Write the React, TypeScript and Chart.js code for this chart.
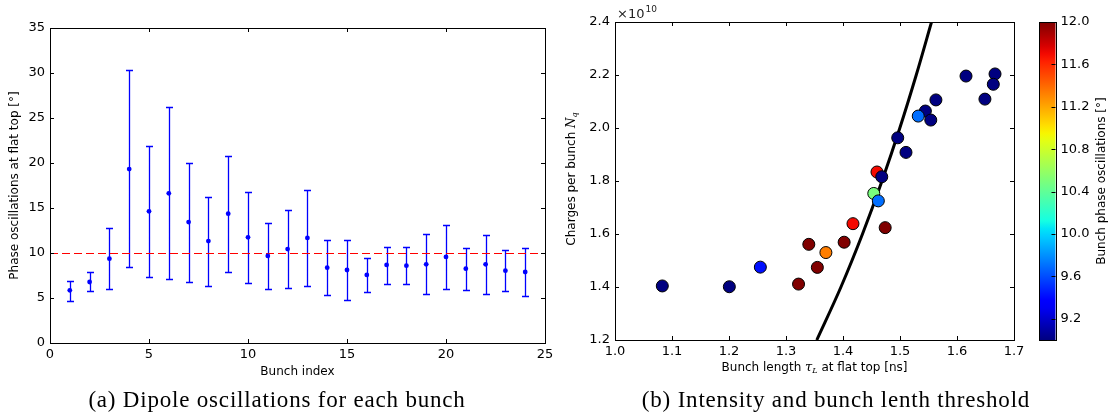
import React, { useEffect, useRef } from "react";
import { Chart, registerables } from "chart.js";
Chart.register(...registerables);

const SANS = "'DejaVu Sans', 'Noto Sans', sans-serif";
const SERIF_CAPTION = "'Liberation Serif', 'DejaVu Serif', serif";

// ---------- (a) Dipole oscillations for each bunch ----------
const bunchIndex = [1, 2, 3, 4, 5, 6, 7, 8, 9, 10, 11, 12, 13, 14, 15, 16, 17, 18, 19, 20, 21, 22, 23, 24];
const phaseOsc = [5.85, 6.78, 9.37, 19.33, 14.63, 16.63, 13.44, 11.33, 14.37, 11.74, 9.67, 10.44, 11.67, 8.37, 8.11, 7.56, 8.67, 8.59, 8.74, 9.56, 8.26, 8.74, 8.04, 7.89];
const phaseOscHigh = [6.93, 7.85, 12.74, 30.3, 21.9, 26.2, 20.04, 16.2, 20.8, 16.8, 13.33, 14.78, 16.96, 11.4, 11.4, 9.41, 10.7, 10.7, 12.07, 13.07, 10.59, 12.0, 10.33, 10.52];
const phaseOscLow = [4.7, 5.74, 5.96, 8.41, 7.33, 7.07, 6.82, 6.37, 7.93, 6.63, 6.0, 6.07, 6.37, 5.3, 4.81, 5.67, 6.59, 6.52, 5.41, 5.96, 5.89, 5.41, 5.74, 5.22];
const thresholdLevel = 10;
const leftXRange = [0, 25];
const leftYRange = [0, 35];
const leftXTicks = [0, 5, 10, 15, 20, 25];
const leftYTicks = [0, 5, 10, 15, 20, 25, 30, 35];

// ---------- (b) Intensity and bunch length threshold ----------
const bunchLength = [1.083, 1.2006, 1.255, 1.322, 1.34, 1.355, 1.37, 1.402, 1.4175, 1.4596, 1.468, 1.454, 1.462, 1.474, 1.496, 1.5105, 1.5445, 1.554, 1.532, 1.563, 1.6158, 1.6667, 1.6637, 1.649];
const bunchCharges = [1.404, 1.401, 1.475, 1.411, 1.561, 1.474, 1.53, 1.569, 1.639, 1.834, 1.816, 1.753, 1.725, 1.624, 1.963, 1.908, 2.064, 2.03, 2.045, 2.106, 2.196, 2.204, 2.165, 2.109];
const bunchPhaseOsc = [8.9, 8.9, 9.42, 12.3, 12.3, 12.3, 11.33, 12.3, 11.7, 11.7, 8.9, 10.49, 9.7, 12.3, 8.9, 8.9, 8.9, 8.9, 9.7, 8.9, 8.9, 8.9, 8.9, 8.9];
const thresholdTau = [1.354, 1.3964, 1.4342, 1.4684, 1.4997, 1.5285, 1.5553];
const thresholdCharges = [1.2, 1.4, 1.6, 1.8, 2.0, 2.2, 2.4];
const rightXRange = [1.0, 1.7];
const rightYRange = [1.2, 2.4];
const rightXTicks = [1.0, 1.1, 1.2, 1.3, 1.4, 1.5, 1.6, 1.7];
const rightYTicks = [1.2, 1.4, 1.6, 1.8, 2.0, 2.2, 2.4];
const colorRange = [9.0, 12.0];
const colorbarTicks = [9.2, 9.6, 10.0, 10.4, 10.8, 11.2, 11.6, 12.0];

function jet(t: number): string {
  t = Math.max(0, Math.min(1, t));
  const interp = (pts: number[][]) => {
    for (let i = 0; i < pts.length - 1; i++) {
      const [x0, y0] = pts[i];
      const [x1, y1] = pts[i + 1];
      if (t <= x1) return y0 + ((y1 - y0) * (t - x0)) / (x1 - x0);
    }
    return pts[pts.length - 1][1];
  };
  const r = interp([[0, 0], [0.35, 0], [0.66, 1], [0.89, 1], [1, 0.5]]);
  const g = interp([[0, 0], [0.125, 0], [0.375, 1], [0.64, 1], [0.91, 0], [1, 0]]);
  const b = interp([[0, 0.5], [0.11, 1], [0.34, 1], [0.65, 0], [1, 0]]);
  return `rgb(${Math.round(r * 255)},${Math.round(g * 255)},${Math.round(b * 255)})`;
}
const colorFor = (v: number) => jet((v - colorRange[0]) / (colorRange[1] - colorRange[0]));

const setTicks = (vals: number[]) => (scale: any) => {
  scale.ticks = vals.map((v) => ({ value: v }));
};

type Seg = { t: string; font: string; dy?: number };
function drawRich(ctx: CanvasRenderingContext2D, segs: Seg[], cx: number, cy: number, rot: number) {
  ctx.save();
  ctx.translate(cx, cy);
  ctx.rotate(rot);
  let total = 0;
  const widths = segs.map((s) => {
    ctx.font = s.font;
    const w = ctx.measureText(s.t).width;
    total += w;
    return w;
  });
  let x = -total / 2;
  ctx.textBaseline = "middle";
  ctx.textAlign = "left";
  ctx.fillStyle = "#000";
  segs.forEach((s, i) => {
    ctx.font = s.font;
    ctx.fillText(s.t, x, s.dy || 0);
    x += widths[i];
  });
  ctx.restore();
}

const frameTicks = {
  id: "frameTicks",
  afterDatasetsDraw(chart: any) {
    const { ctx, chartArea: a } = chart;
    const xs = chart.scales.x;
    const ys = chart.scales.y;
    const L = 4;
    ctx.save();
    ctx.strokeStyle = "#000";
    ctx.lineWidth = 1;
    ctx.beginPath();
    for (const t of xs.ticks) {
      const p = Math.round(xs.getPixelForValue(t.value)) + 0.5;
      ctx.moveTo(p, a.bottom);
      ctx.lineTo(p, a.bottom - L);
      ctx.moveTo(p, a.top);
      ctx.lineTo(p, a.top + L);
    }
    for (const t of ys.ticks) {
      const p = Math.round(ys.getPixelForValue(t.value)) + 0.5;
      ctx.moveTo(a.left, p);
      ctx.lineTo(a.left + L, p);
      ctx.moveTo(a.right, p);
      ctx.lineTo(a.right - L, p);
    }
    ctx.stroke();
    ctx.strokeRect(Math.round(a.left) + 0.5, Math.round(a.top) + 0.5, Math.round(a.right - a.left), Math.round(a.bottom - a.top));
    ctx.restore();
  },
};

const errorBars = {
  id: "errorBars",
  beforeDatasetsDraw(chart: any) {
    const { ctx, chartArea: a } = chart;
    const xs = chart.scales.x;
    const ys = chart.scales.y;
    ctx.save();
    ctx.strokeStyle = "#0000ff";
    ctx.lineWidth = 1.3;
    ctx.beginPath();
    bunchIndex.forEach((b, i) => {
      const px = Math.round(xs.getPixelForValue(b)) + 0.5;
      const hi = Math.round(ys.getPixelForValue(phaseOscHigh[i])) + 0.5;
      const lo = Math.round(ys.getPixelForValue(phaseOscLow[i])) + 0.5;
      ctx.moveTo(px, hi);
      ctx.lineTo(px, lo);
      ctx.moveTo(px - 3.5, hi);
      ctx.lineTo(px + 3.5, hi);
      ctx.moveTo(px - 3.5, lo);
      ctx.lineTo(px + 3.5, lo);
    });
    ctx.stroke();
    // threshold dashed line
    const ty = Math.round(ys.getPixelForValue(thresholdLevel)) + 0.5;
    ctx.strokeStyle = "#ff0000";
    ctx.lineWidth = 1;
    ctx.setLineDash([8, 4]);
    ctx.beginPath();
    ctx.moveTo(xs.getPixelForValue(leftXRange[0]), ty);
    ctx.lineTo(Math.min(a.right, xs.getPixelForValue(leftXRange[1])), ty);
    ctx.stroke();
    ctx.restore();
  },
};

const rightTitles = {
  id: "rightTitles",
  afterDraw(chart: any) {
    const { ctx, chartArea: a } = chart;
    const cx = (a.left + a.right) / 2;
    const cy = (a.top + a.bottom) / 2;
    drawRich(
      ctx,
      [
        { t: "Bunch length ", font: `12px ${SANS}` },
        { t: "τ", font: `italic 13px 'DejaVu Serif', serif` },
        { t: "L", font: `italic 8px 'DejaVu Serif', serif`, dy: 3 },
        { t: " at flat top [ns]", font: `12px ${SANS}` },
      ],
      cx,
      a.bottom + 28,
      0
    );
    drawRich(
      ctx,
      [
        { t: "Charges per bunch ", font: `12px ${SANS}` },
        { t: "N", font: `italic 12px 'DejaVu Serif', serif` },
        { t: "q", font: `italic 8px 'DejaVu Serif', serif`, dy: 3 },
      ],
      a.left - 43,
      cy - 2,
      -Math.PI / 2
    );
    ctx.save();
    ctx.fillStyle = "#222";
    ctx.textBaseline = "alphabetic";
    ctx.textAlign = "left";
    ctx.font = `13px ${SANS}`;
    const base = "×10";
    ctx.fillText(base, a.left + 2, a.top - 4);
    const w = ctx.measureText(base).width;
    ctx.font = `9px ${SANS}`;
    ctx.fillText("10", a.left + 2 + w + 1, a.top - 10);
    ctx.restore();
  },
};

const colorbarPlugin = {
  id: "colorbarFill",
  beforeDraw(chart: any) {
    const { ctx, chartArea: a } = chart;
    const grad = ctx.createLinearGradient(0, a.bottom, 0, a.top);
    for (let i = 0; i <= 40; i++) grad.addColorStop(i / 40, jet(i / 40));
    ctx.save();
    ctx.fillStyle = grad;
    ctx.fillRect(a.left, a.top, a.right - a.left, a.bottom - a.top);
    ctx.strokeStyle = "#000";
    ctx.lineWidth = 1;
    ctx.strokeRect(Math.round(a.left) + 0.5, Math.round(a.top) + 0.5, Math.round(a.right - a.left), Math.round(a.bottom - a.top));
    const ys = chart.scales.y;
    ctx.beginPath();
    for (const t of ys.ticks) {
      const p = Math.round(ys.getPixelForValue(t.value)) + 0.5;
      ctx.moveTo(a.right, p);
      ctx.lineTo(a.right - 4, p);
    }
    ctx.stroke();
    ctx.restore();
    drawRich(ctx, [{ t: "Bunch phase oscillations [°]", font: `12px ${SANS}` }], a.right + 46, (a.top + a.bottom) / 2, -Math.PI / 2);
  },
};

export default function App() {
  const leftRef = useRef<HTMLCanvasElement>(null);
  const rightRef = useRef<HTMLCanvasElement>(null);
  const cbRef = useRef<HTMLCanvasElement>(null);

  useEffect(() => {
    const charts: Chart[] = [];
    const tickFont = { family: SANS, size: 13 };

    charts.push(
      new Chart(leftRef.current as HTMLCanvasElement, {
        type: "scatter",
        data: {
          datasets: [
            {
              data: bunchIndex.map((x, i) => ({ x, y: phaseOsc[i] })),
              backgroundColor: "#0000ff",
              borderColor: "#0000ff",
              pointRadius: 2.4,
              pointBorderWidth: 0,
            } as any,
          ],
        },
        options: {
          animation: false,
          responsive: false,
          maintainAspectRatio: false,
          layout: { padding: { top: 28, right: 15, left: 0, bottom: 0 } },
          plugins: { legend: { display: false }, tooltip: { enabled: false } },
          scales: {
            x: {
              type: "linear",
              min: leftXRange[0],
              max: leftXRange[1],
              afterBuildTicks: setTicks(leftXTicks),
              ticks: { padding: 4, font: tickFont, color: "#000", maxRotation: 0 },
              grid: { display: false, drawTicks: false },
              border: { display: false },
              title: { display: true, text: "Bunch index", color: "#000", font: { family: SANS, size: 12 }, padding: { top: 0, bottom: 11 } },
              afterFit: (s: any) => {
                s.height = 47;
              },
            },
            y: {
              type: "linear",
              min: leftYRange[0],
              max: leftYRange[1],
              afterBuildTicks: setTicks(leftYTicks),
              ticks: { padding: 5, font: tickFont, color: "#000" },
              grid: { display: false, drawTicks: false },
              border: { display: false },
              title: { display: true, text: "Phase oscillations at flat top [°]", color: "#000", font: { family: SANS, size: 12 }, padding: { top: 8, bottom: 0 } },
              afterFit: (s: any) => {
                s.width = 50;
              },
            },
          },
        } as any,
        plugins: [errorBars, frameTicks],
      })
    );

    charts.push(
      new Chart(rightRef.current as HTMLCanvasElement, {
        type: "scatter",
        data: {
          datasets: [
            {
              data: bunchLength.map((x, i) => ({ x, y: bunchCharges[i] })),
              backgroundColor: bunchPhaseOsc.map(colorFor),
              borderColor: "#000",
              borderWidth: 1,
              pointRadius: 6,
              order: 0,
            } as any,
            {
              type: "line",
              data: thresholdTau.map((x, i) => ({ x, y: thresholdCharges[i] })),
              borderColor: "#000",
              borderWidth: 3,
              pointRadius: 0,
              cubicInterpolationMode: "monotone",
              order: 1,
            } as any,
          ],
        },
        options: {
          animation: false,
          responsive: false,
          maintainAspectRatio: false,
          layout: { padding: { top: 22, right: 16, left: 0, bottom: 0 } },
          plugins: { legend: { display: false }, tooltip: { enabled: false } },
          scales: {
            x: {
              type: "linear",
              min: rightXRange[0],
              max: rightXRange[1],
              afterBuildTicks: setTicks(rightXTicks),
              ticks: { padding: 4, font: tickFont, color: "#000", maxRotation: 0, callback: (v: any) => Number(v).toFixed(1) },
              grid: { display: false, drawTicks: false },
              border: { display: false },
              afterFit: (s: any) => {
                s.height = 50;
              },
            },
            y: {
              type: "linear",
              min: rightYRange[0],
              max: rightYRange[1],
              afterBuildTicks: setTicks(rightYTicks),
              ticks: { padding: 5, font: tickFont, color: "#000", callback: (v: any) => Number(v).toFixed(1) },
              grid: { display: false, drawTicks: false },
              border: { display: false },
              afterFit: (s: any) => {
                s.width = 55;
              },
            },
          },
        } as any,
        plugins: [frameTicks, rightTitles],
      })
    );

    charts.push(
      new Chart(cbRef.current as HTMLCanvasElement, {
        type: "scatter",
        data: { datasets: [] },
        options: {
          animation: false,
          responsive: false,
          maintainAspectRatio: false,
          layout: { padding: { top: 22, right: 0, left: 9, bottom: 50 } },
          plugins: { legend: { display: false }, tooltip: { enabled: false } },
          scales: {
            x: { display: false },
            y: {
              type: "linear",
              position: "right",
              min: colorRange[0],
              max: colorRange[1],
              afterBuildTicks: setTicks(colorbarTicks),
              ticks: { padding: 5, font: tickFont, color: "#000", callback: (v: any) => Number(v).toFixed(1) },
              grid: { display: false, drawTicks: false },
              border: { display: false },
              afterFit: (s: any) => {
                s.width = 62.5;
              },
            },
          },
        } as any,
        plugins: [colorbarPlugin],
      })
    );

    return () => charts.forEach((c) => c.destroy());
  }, []);

  const caption = (cx: number): React.CSSProperties => ({
    position: "absolute",
    left: cx - 260,
    width: 520,
    top: 387,
    textAlign: "center",
    fontFamily: SERIF_CAPTION,
    fontSize: 23,
    lineHeight: "26px",
    letterSpacing: "0.8px",
    color: "#000",
    whiteSpace: "nowrap",
  });

  return (
    <div style={{ position: "fixed", left: 0, top: 0, width: 1118, height: 419, background: "#fff", overflow: "hidden" }}>
      <canvas ref={leftRef} width={560} height={390} style={{ position: "absolute", left: 0, top: 0, width: 560, height: 390 }} />
      <canvas ref={rightRef} width={470} height={390} style={{ position: "absolute", left: 560, top: 0, width: 470, height: 390 }} />
      <canvas ref={cbRef} width={88} height={390} style={{ position: "absolute", left: 1030, top: 0, width: 88, height: 390 }} />
      <div style={caption(277)}>(a) Dipole oscillations for each bunch</div>
      <div style={caption(836)}>(b) Intensity and bunch lenth threshold</div>
    </div>
  );
}
